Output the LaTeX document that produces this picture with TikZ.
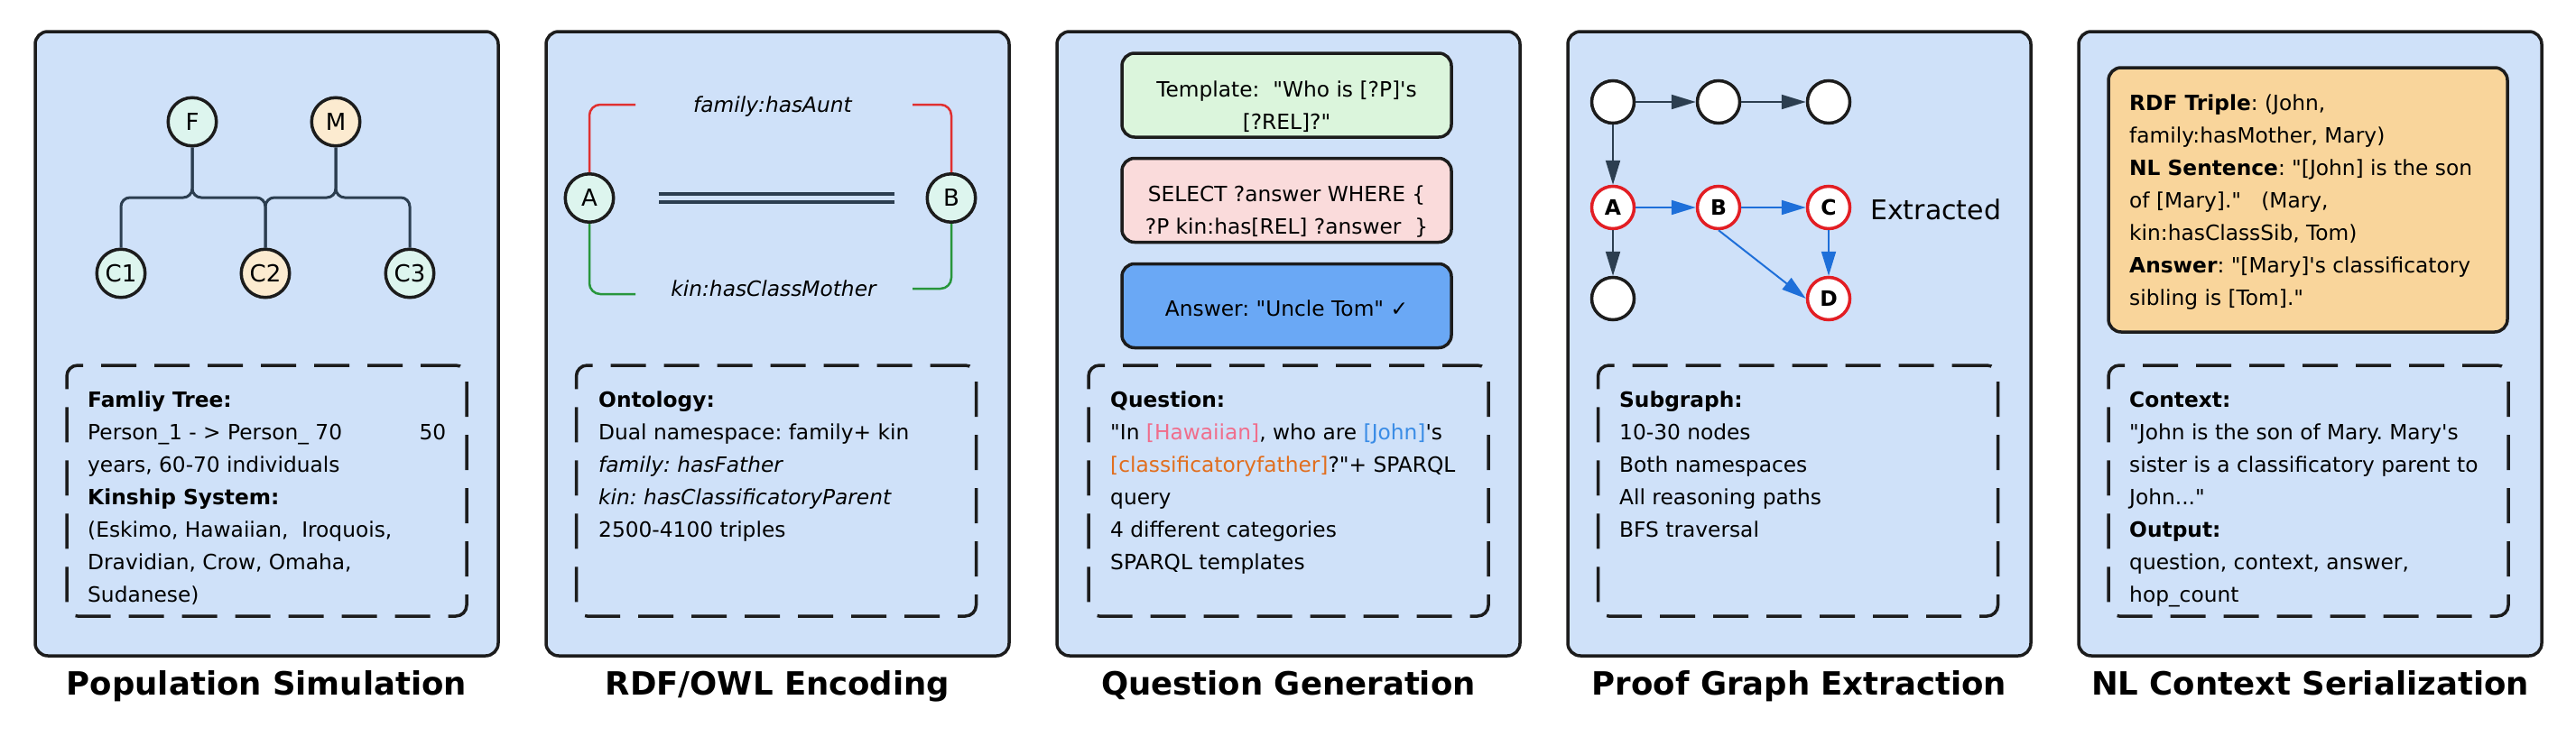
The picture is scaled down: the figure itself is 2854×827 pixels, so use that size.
\documentclass[tikz,border=0pt]{standalone}
\usepackage{fontspec}
\setmainfont{DejaVu Sans}
\usetikzlibrary{arrows.meta,calc}
\definecolor{panelbg}{RGB}{207,225,249}
\definecolor{ink}{RGB}{28,28,28}
\definecolor{slate}{RGB}{44,62,80}
\definecolor{mint}{RGB}{221,245,238}
\definecolor{peach}{RGB}{252,235,208}
\definecolor{relred}{RGB}{224,48,48}
\definecolor{relgreen}{RGB}{40,150,60}
\definecolor{tplgreen}{RGB}{219,245,220}
\definecolor{sqlpink}{RGB}{250,219,219}
\definecolor{ansblue}{RGB}{106,168,245}
\definecolor{extblue}{RGB}{30,111,217}
\definecolor{noderim}{RGB}{226,30,36}
\definecolor{nlorange}{RGB}{249,213,155}
\definecolor{hawpink}{RGB}{240,110,140}
\definecolor{johnblue}{RGB}{58,140,230}
\definecolor{classorange}{RGB}{225,110,30}
\newcommand{\aq}{\textquotesingle}
\newcommand{\dq}{\textquotedbl}
\frenchspacing
\begin{document}
\frenchspacing
\begin{tikzpicture}[x=1pt,y=-1pt,
  panel/.style={draw=ink, line width=3.5pt, fill=panelbg, rounded corners=14pt, minimum width=513pt, minimum height=692pt, inner sep=0pt},
  dashbox/.style={draw=ink, line width=3.5pt, dash pattern=on 39pt off 20pt, rounded corners=12pt, minimum width=443pt, minimum height=278pt, inner sep=0pt},
  body/.style={anchor=north west, inner sep=0pt, align=left, font=\fontsize{23.3}{36}\selectfont},
  title/.style={anchor=base, inner sep=0pt, font=\fontsize{35.5}{40}\selectfont\bfseries},
  person/.style={circle, draw=ink, line width=3.5pt, fill=#1, minimum size=53.5pt, inner sep=0pt, font=\fontsize{26}{30}\selectfont},
  tree/.style={draw=slate, line width=3pt, rounded corners=10pt},
  rel/.style={draw=#1, line width=2.5pt, rounded corners=12pt},
  rellabel/.style={anchor=base, inner sep=0pt, font=\fontsize{23.3}{28}\selectfont\itshape},
  qbox/.style={draw=ink, line width=3.5pt, rounded corners=14pt, minimum width=365pt, minimum height=93pt, inner sep=0pt},
  qtext/.style={inner sep=0pt, align=center, font=\fontsize{23.3}{36}\selectfont},
  gnode/.style={circle, draw=ink, fill=white, line width=3.5pt, minimum size=47pt, inner sep=0pt, font=\fontsize{23.5}{28}\selectfont\bfseries},
  enode/.style={gnode, draw=noderim},
  darrow/.style={draw=slate, line width=2pt, -{Triangle[length=27pt,width=16pt]}},
  barrow/.style={draw=extblue, line width=2pt, -{Triangle[length=27pt,width=16pt]}}
]
\useasboundingbox (0,0) rectangle (2854,827);

% panels
\node[panel] (p1) at (295.5,381) {};
\node[panel] (p2) at (861.5,381) {};
\node[panel] (p3) at (1427.5,381) {};
\node[panel] (p4) at (1993.5,381) {};
\node[panel] (p5) at (2559.5,381) {};

% dashed boxes
\node[dashbox] (d1) at (295.5,544) {};
\node[dashbox] (d2) at (860,544) {};
\node[dashbox] (d3) at (1427.5,544) {};
\node[dashbox] (d4) at (1992,544) {};
\node[dashbox] (d5) at (2557.5,544) {};

% titles
\node[title] (t1lbl) at (295.5,770) {Population Simulation};
\node[title] (t2lbl) at (861.5,770) {RDF/OWL Encoding};
\node[title] (t3lbl) at (1427.5,770) {Question Generation};
\node[title] (t4lbl) at (1993.5,770) {Proof Graph Extraction};
\node[title] (t5lbl) at (2559.5,770) {NL Context Serialization};

% ---------- panel 1
\coordinate (bar) at (0,219);
\node[person=mint] (F) at (213,135) {F};
\node[person=peach] (M) at (372,135) {M};
\node[person=mint] (C1) at (134,303) {C1};
\node[person=peach] (C2) at (294,303) {C2};
\node[person=mint] (C3) at (454,303) {C3};
\draw[tree] (F) -- (F |- bar) -| (C1);
\draw[tree] (F) -- (F |- bar) -| (C2);
\draw[tree] (M) -- (M |- bar) -| (C2);
\draw[tree] (M) -- (M |- bar) -| (C3);
\node[body] (txt1) at (97,434) {\textbf{Famliy Tree:}\\
\makebox[397pt][l]{Person\_1 - > Person\_ 70\hfill 50}\\
years, 60-70 individuals\\
\textbf{Kinship System:}\\
(Eskimo, Hawaiian,\ \ Iroquois,\\
Dravidian, Crow, Omaha,\\
Sudanese)};

% ---------- panel 2
\node[person=mint] (A) at (653,219.5) {A};
\node[person=mint] (B) at (1054,219.5) {B};
\coordinate (auntL) at (704,116);
\coordinate (auntR) at (1011,116);
\coordinate (momL) at (704,326);
\coordinate (momR) at (1011,320);
\draw[rel=relred] (A.north) |- (auntL);
\draw[rel=relred] (auntR) -| (B.north);
\draw[rel=relgreen] (A.south) |- (momL);
\draw[rel=relgreen] (momR) -| (B.south);
\node[rellabel] (aunt) at (856,124) {family:hasAunt};
\node[rellabel] (mom) at (857,328) {kin:hasClassMother};
\draw[draw=slate, line width=4pt, double=panelbg, double distance=5pt, shorten <=48pt, shorten >=35pt] (A) -- (B);
\node[body] (txt2) at (663,434) {\textbf{Ontology:}\\
Dual namespace: family+ kin\\
\textit{family: hasFather}\\
\textit{kin: hasClassificatoryParent}\\
2500-4100 triples};

% ---------- panel 3
\node[qbox, fill=tplgreen] (tpl) at (1425.5,105.5) {};
\node[qbox, fill=sqlpink] (sql) at (1425.5,222) {};
\node[qbox, fill=ansblue] (ans) at (1425.5,339) {};
\node[qtext] (tpltxt) at (1425.5,118.5) {Template:\ \ \dq Who is [?P]\aq s\\{}[?REL]?\dq};
\node[qtext] (sqltxt) at (1425.5,234.5) {SELECT ?answer WHERE \{\\{}?P kin:has[REL] ?answer\ \ \}};
\node[qtext] (anstxt) at (1425.5,342) {Answer: \dq Uncle Tom\dq\ ✓};
\node[body] (txt3) at (1230,434) {\textbf{Question:}\\
\dq In \textcolor{hawpink}{[Hawaiian]}, who are \textcolor{johnblue}{[John]}\aq s\\
\textcolor{classorange}{[classificatoryfather]}?\dq+ SPARQL\\
query\\
4 different categories\\
SPARQL templates};

% ---------- panel 4
\node[gnode] (g1) at (1787,113) {};
\node[gnode] (g2) at (1904,113) {};
\node[gnode] (g3) at (2026,113) {};
\node[enode] (nA) at (1787,230) {A};
\node[enode] (nB) at (1904,230) {B};
\node[enode] (nC) at (2026,230) {C};
\node[enode] (nD) at (2026,331) {D};
\node[gnode] (g4) at (1787,331) {};
\draw[darrow] (g1) -- (g2);
\draw[darrow] (g2) -- (g3);
\draw[darrow] (g1) -- (nA);
\draw[darrow] (nA) -- (g4);
\draw[barrow] (nA) -- (nB);
\draw[barrow] (nB) -- (nC);
\draw[barrow] (nB.south) -- (nD.west);
\draw[barrow] (nC) -- (nD);
\node[anchor=base west, inner sep=0pt, font=\fontsize{30}{34}\selectfont] (extr) at (2072,243) {Extracted};
\node[body] (txt4) at (1794,434) {\textbf{Subgraph:}\\
10-30 nodes\\
Both namespaces\\
All reasoning paths\\
BFS traversal};

% ---------- panel 5
\node[draw=ink, line width=3.5pt, fill=nlorange, rounded corners=14pt, minimum width=442pt, minimum height=293pt, inner sep=0pt] (nl) at (2557,221.5) {};
\node[body] (nltxt) at (2359,105) {\textbf{RDF Triple}: (John,\\
family:hasMother, Mary)\\
\textbf{NL Sentence}: \dq[John] is the son\\
of [Mary].\dq\ \ \ (Mary,\\
kin:hasClassSib, Tom)\\
\textbf{Answer}: \dq[Mary]\aq s classificatory\\
sibling is [Tom].\dq};
\node[body] (txt5) at (2359,434) {\textbf{Context:}\\
\dq John is the son of Mary. Mary\aq s\\
sister is a classificatory parent to\\
John...\dq\\
\textbf{Output:}\\
question, context, answer,\\
hop\_count};
\end{tikzpicture}
\end{document}
